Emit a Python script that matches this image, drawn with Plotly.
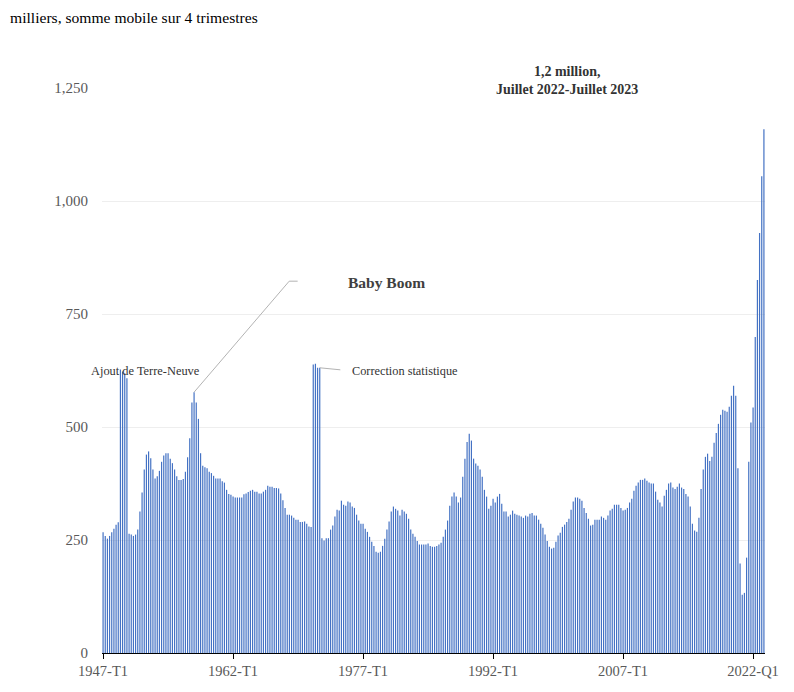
import plotly.graph_objects as go

# quarterly series, 4-quarter rolling sum (thousands)
start_year = 1947
values = [
    267, 259, 253, 259, 267, 275, 284, 289, 627, 623, 619, 608,
    264, 262, 259, 262, 273, 313, 355, 406, 439, 446, 431, 406,
    386, 391, 403, 423, 437, 442, 442, 430, 420, 406, 391, 383,
    383, 385, 401, 433, 475, 554, 577, 554, 518, 442, 414, 411,
    409, 401, 398, 392, 386, 386, 386, 380, 377, 361, 352, 350,
    346, 344, 344, 344, 344, 351, 353, 356, 359, 361, 357, 357,
    353, 353, 357, 361, 370, 368, 368, 365, 365, 364, 353, 338,
    321, 306, 306, 304, 299, 295, 295, 290, 290, 291, 286, 280,
    279, 638, 640, 631, 631, 254, 249, 254, 254, 273, 282, 302,
    317, 315, 337, 328, 326, 335, 333, 324, 321, 306, 293, 286,
    286, 275, 268, 257, 246, 237, 224, 222, 224, 237, 253, 273,
    291, 313, 324, 319, 315, 304, 317, 313, 308, 297, 273, 264,
    257, 248, 240, 240, 240, 240, 242, 237, 235, 235, 237, 240,
    244, 257, 273, 293, 326, 346, 355, 346, 333, 344, 390, 430,
    467, 485, 470, 430, 419, 414, 406, 390, 361, 346, 319, 326,
    341, 333, 346, 352, 330, 313, 313, 302, 306, 315, 308, 306,
    304, 302, 299, 304, 302, 308, 310, 304, 304, 295, 286, 277,
    262, 248, 235, 231, 233, 246, 260, 266, 279, 284, 290, 297,
    317, 335, 344, 344, 341, 337, 321, 310, 297, 282, 284, 295,
    295, 295, 302, 299, 295, 304, 315, 319, 328, 328, 328, 321,
    315, 317, 321, 333, 341, 359, 370, 377, 383, 383, 386, 381,
    377, 375, 375, 357, 339, 333, 324, 348, 361, 375, 377, 366,
    363, 368, 375, 366, 363, 352, 346, 324, 286, 271, 268, 299,
    363, 406, 434, 441, 425, 434, 465, 487, 507, 527, 538, 536,
    534, 545, 569, 591, 569, 409, 198, 129, 133, 211, 423, 510,
    543, 699, 825, 929, 1055, 1159,
]
quarters = ["%d-T%d" % (start_year + i // 4, i % 4 + 1) for i in range(len(values))]
tick_idx = [0, 60, 120, 180, 240, 300]
tick_text = ["1947-T1", "1962-T1", "1977-T1", "1992-T1", "2007-T1", "2022-Q1"]
y_ticks = [0, 250, 500, 750, 1000, 1250]

SERIF = "Liberation Serif, Times New Roman, serif"
BLUE = "#4472C4"
LEADER = "#b3b3b3"

# page body has an 8px margin, so the figure is shrunk and shifted by that
W, H = 786, 684

# plotly widens bars thinner than 2px, so each 1px bar is drawn as a
# vertical stroke from 0 to its value instead
bx, by = [], []
for i, v in enumerate(values):
    bx += [i, i, None]
    by += [0, v, None]

fig = go.Figure()
fig.add_trace(go.Scatter(
    x=bx, y=by, mode="lines", line=dict(color=BLUE, width=1.2),
    hoverinfo="skip",
))
fig.add_trace(go.Scatter(
    x=list(range(len(values))), y=values, customdata=quarters, mode="markers",
    marker=dict(size=4, opacity=0),
    hovertemplate="%{customdata}: %{y}<extra></extra>",
))

fig.update_layout(
    width=W, height=H,
    margin=dict(l=93.6, r=29, t=80, b=38.7),
    paper_bgcolor="white", plot_bgcolor="white",
    showlegend=False,
    font=dict(family=SERIF, size=14, color="#595959"),
    title=dict(text="milliers, somme mobile sur 4 trimestres",
               x=2 / W, xanchor="left", y=1 - 10 / H, yanchor="middle",
               xref="container", yref="container",
               font=dict(family=SERIF, size=15.6, color="black")),
)
fig.update_xaxes(
    range=[-0.5, len(values) - 0.5], tickvals=tick_idx, ticktext=tick_text,
    ticks="outside", ticklen=5, tickcolor="black", tickwidth=1,
    showline=True, linecolor="black", linewidth=1,
    showgrid=False, zeroline=False,
    tickfont=dict(family=SERIF, size=14.5, color="#595959"),
)
fig.update_yaxes(
    range=[0, 1250], tickvals=y_ticks, tickformat=",",
    showgrid=True, gridcolor="#eeeeee", gridwidth=1,
    zeroline=False, showline=False, ticks="",
    ticklabelstandoff=13,
    tickfont=dict(family=SERIF, size=15, color="#595959"),
)

# leader lines
peak = 42
corr = 100
fig.add_shape(type="path", xref="x", yref="y",
              path="M %d,%d L 85.9,822.6 L 89.8,822.6" % (peak, values[peak]),
              line=dict(color=LEADER, width=1))
fig.add_shape(type="line", xref="x", yref="y",
              x0=corr, y0=values[corr], x1=109.5, y1=626.5,
              line=dict(color=LEADER, width=1))

fig.add_annotation(text="<b>1,2 million,<br>Juillet 2022-Juillet 2023</b>",
                   xref="x", yref="paper", x=214, y=(653.3 - 80) / 565.3,
                   showarrow=False, align="center", xanchor="center", yanchor="middle",
                   font=dict(family=SERIF, size=14, color="#333333"))
fig.add_annotation(text="<b>Baby Boom</b>", xref="x", yref="y", x=130.7, y=819,
                   showarrow=False, xanchor="center", yanchor="middle",
                   font=dict(family=SERIF, size=15.5, color="#404040"))
fig.add_annotation(text="Ajout de Terre-Neuve", xref="paper", yref="y",
                   x=(89 - 101.6) / 663.4, y=624,
                   showarrow=False, xanchor="left", yanchor="middle",
                   font=dict(family=SERIF, size=12.4, color="#333333"))
fig.add_annotation(text="Correction statistique", xref="x", yref="y", x=114, y=624,
                   showarrow=False, xanchor="left", yanchor="middle",
                   font=dict(family=SERIF, size=12.3, color="#333333"))

fig.write_html("out.html")
